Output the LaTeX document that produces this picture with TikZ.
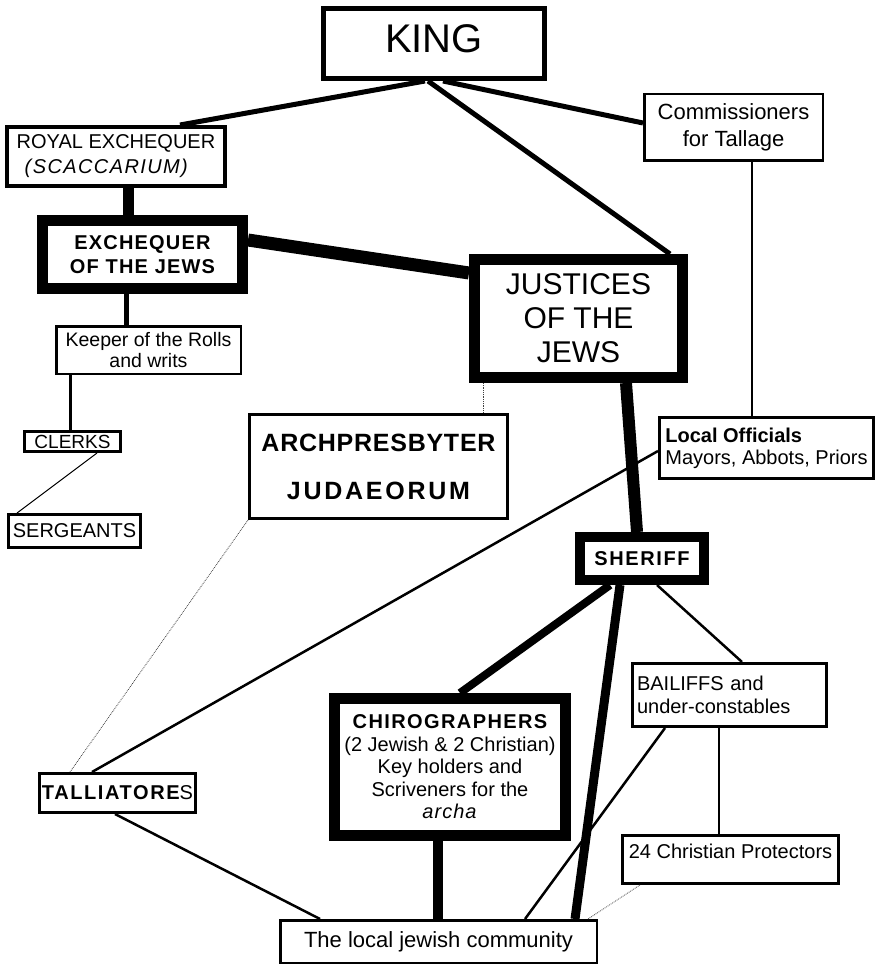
\documentclass[tikz,border=0pt]{standalone}
\usepackage{fontspec}
\setmainfont{Liberation Sans}

\begin{document}
\begin{tikzpicture}[x=1pt,y=-1pt,every node/.style={draw,rectangle,inner sep=0pt,align=center},
	link/.style={line width=#1},
	faint/.style={densely dotted,line width=0.8pt,black!75}
	]
	\useasboundingbox (0,0) rectangle (877,965);
	% boxes
	\node[line width=5pt,minimum width=221pt,minimum height=70pt,font=\fontsize{40}{44}\selectfont,text depth=9pt](king) at (434,43.5){KING};
	\node[line width=2.5pt,minimum width=178.5pt,minimum height=66.5pt,font=\fontsize{22}{27}\selectfont](comm) at (733.5,127.5){Commissioners\\for Tallage};
	\node[line width=4pt,minimum width=218pt,minimum height=59pt,font=\fontsize{20}{25}\selectfont,align=left](royal) at (116,156.5){ROYAL EXCHEQUER\\\hspace*{8pt}\textit{\addfontfeature{LetterSpace=7}(SCACCARIUM)}};
	\node[line width=11pt,minimum width=200pt,minimum height=68pt,font=\fontsize{20}{24}\selectfont\bfseries\addfontfeature{LetterSpace=6}](exch) at (142.5,254.5){EXCHEQUER\\OF THE JEWS};
	\node[line width=11pt,minimum width=208pt,minimum height=118pt,font=\fontsize{30}{34}\selectfont](justices) at (578.5,318.5){JUSTICES\\OF THE\\JEWS};
	\node[line width=2.5pt,minimum width=184.5pt,minimum height=47.5pt,font=\fontsize{19.5}{21}\selectfont](keeper) at (148.5,350){Keeper of the Rolls\\and writs};
	\node[line width=3pt,minimum width=96pt,minimum height=20pt,font=\fontsize{19}{21}\selectfont](clerks) at (72.5,441.5){CLERKS};
	\node[line width=3pt,minimum width=132pt,minimum height=33pt,font=\fontsize{20}{22}\selectfont](sergeants) at (74.5,531){SERGEANTS};
	\node[line width=3pt,minimum width=258pt,minimum height=104pt,font=\fontsize{25}{48}\selectfont\bfseries](arch) at (378.5,466.5){\addfontfeature{LetterSpace=3}ARCHPRESBYTER\\\addfontfeature{LetterSpace=11}JUDAEORUM};
	\node[line width=3pt,minimum width=214pt,minimum height=61pt,font=\fontsize{20}{22}\selectfont,align=left](local) at (766.5,448){\textbf{Local Officials}\\Mayors, Abbots, Priors};
	\node[line width=10pt,minimum width=124pt,minimum height=43pt,font=\fontsize{20}{22}\selectfont\bfseries\addfontfeature{LetterSpace=8}](sheriff) at (642,558.5){SHERIFF};
	\node[line width=11pt,minimum width=231pt,minimum height=137pt,font=\fontsize{20}{22.5}\selectfont](chiro) at (450,767){{\bfseries\addfontfeature{LetterSpace=7}CHIROGRAPHERS}\\(2 Jewish \& 2 Christian)\\Key holders and\\Scriveners for the\\\textit{\addfontfeature{LetterSpace=5}archa}};
	\node[line width=3pt,minimum width=194pt,minimum height=63pt,font=\fontsize{20}{23}\selectfont,text width=185pt,align=left](bailiffs) at (729.5,695){BAILIFFS and\\under-constables};
	\node[line width=3pt,minimum width=216pt,minimum height=48pt,font=\fontsize{20}{22}\selectfont,text height=14.6pt,text depth=17.6pt](protectors) at (730.5,859.5){24 Christian Protectors};
	\node[line width=3pt,minimum width=156pt,minimum height=39pt,font=\fontsize{20}{22}\selectfont](talliatores) at (117.5,793){{\bfseries\addfontfeature{LetterSpace=8}TALLIATORE}S};
	\node[line width=2.5pt,minimum width=316.5pt,minimum height=42.5pt,font=\fontsize{22}{24}\selectfont](community) at (438.5,941.5){The local jewish community};
	% links
	\draw[link=5pt] ([xshift=-9pt]king.south) -- ([xshift=64pt]royal.north);
	\draw[link=5pt] ([xshift=-6pt]king.south) -- ([xshift=91.5pt]justices.north);
	\draw[link=5pt] ([xshift=9pt]king.south) -- ([yshift=4.5pt]comm.west);
	\draw[link=2pt] ([xshift=18.5pt]comm.south) -- ([xshift=-14.5pt]local.north);
	\draw[link=11pt] ([xshift=12pt]royal.south) -- ([xshift=-14.5pt]exch.north);
	\draw[link=5pt] ([xshift=-16.5pt]exch.south) -- ([xshift=-22.5pt]keeper.north);
	\draw[link=13pt] ([yshift=14.5pt]exch.east) -- ([yshift=45.5pt]justices.west);
	\draw[link=3pt] ([xshift=-78.5pt]keeper.south) -- ([xshift=-2.5pt]clerks.north);
	\draw[link=1pt] ([xshift=24.5pt]clerks.south) -- ([xshift=-57.5pt]sergeants.north);
	\draw[faint] ([xshift=-95.5pt]justices.south) -- ([xshift=104.5pt]arch.north);
	\draw[faint] (arch.south west) -- ([xshift=-47.5pt]talliatores.north);
	\draw[link=12pt] ([xshift=47.5pt]justices.south) -- ([xshift=-5pt]sheriff.north);
	\draw[link=2.5pt] ([yshift=-3pt]local.west) -- ([xshift=-25.5pt]talliatores.north);
	\draw[link=8pt] ([xshift=-32pt]sheriff.south) -- ([xshift=10pt]chiro.north);
	\draw[link=9pt] ([xshift=-22pt]sheriff.south) -- ([xshift=136.5pt]community.north);
	\draw[link=2.5pt] ([xshift=15pt]sheriff.south) -- ([xshift=12.5pt]bailiffs.north);
	\draw[link=2.5pt] ([xshift=-64.5pt]bailiffs.south) -- ([xshift=86.5pt]community.north);
	\draw[link=2.5pt] ([xshift=-10.5pt]bailiffs.south) -- ([xshift=-11.5pt]protectors.north);
	\draw[faint] ([xshift=-90.5pt]protectors.south) -- ([xshift=149.5pt]community.north);
	\draw[link=10pt] ([xshift=-12pt]chiro.south) -- ([xshift=-0.5pt]community.north);
	\draw[link=2.5pt] ([xshift=-2.5pt]talliatores.south) -- ([xshift=-118.5pt]community.north);
\end{tikzpicture}
\end{document}
